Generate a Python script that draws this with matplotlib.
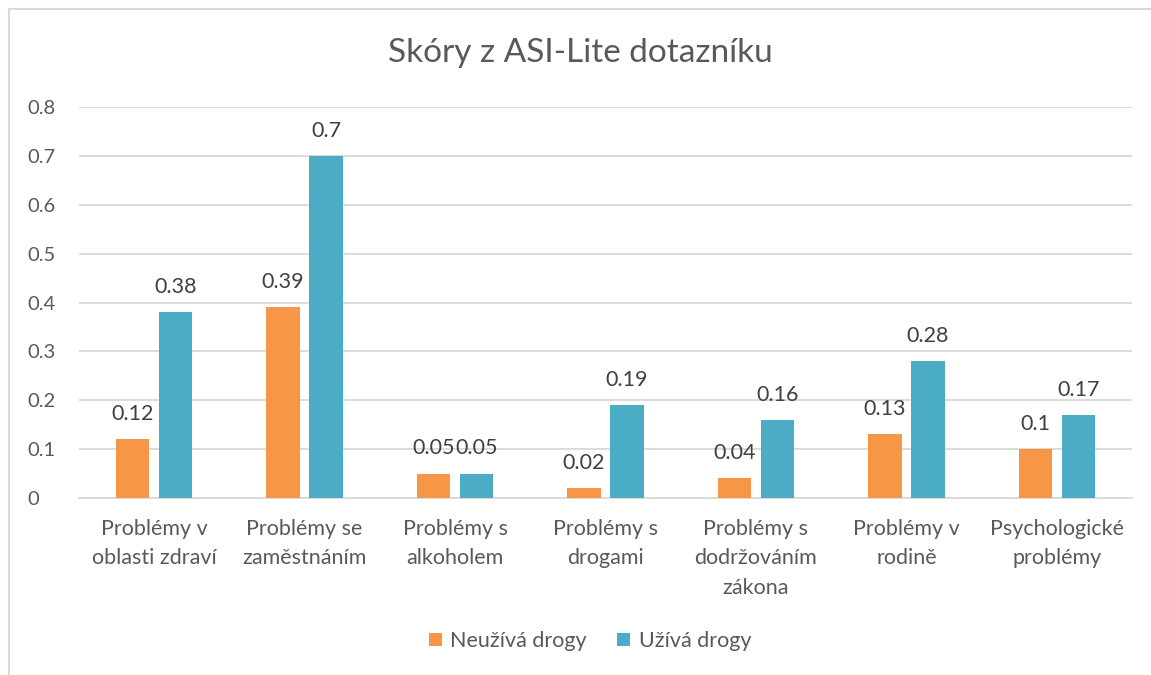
import matplotlib
matplotlib.use("Agg")
import matplotlib.pyplot as plt
from matplotlib.lines import Line2D
import numpy as np

categories = ["Problémy v\noblasti zdraví", "Problémy se\nzaměstnáním", "Problémy s\nalkoholem",
              "Problémy s\ndrogami", "Problémy s\ndodržováním\nzákona", "Problémy v\nrodině",
              "Psychologické\nproblémy"]
neuziva = [0.12, 0.39, 0.05, 0.02, 0.04, 0.13, 0.1]
uziva = [0.38, 0.7, 0.05, 0.19, 0.16, 0.28, 0.17]
series_names = ["Neužívá drogy", "Užívá drogy"]
yticks = [0, 0.1, 0.2, 0.3, 0.4, 0.5, 0.6, 0.7, 0.8]
ytick_labels = ["0", "0.1", "0.2", "0.3", "0.4", "0.5", "0.6", "0.7", "0.8"]
title = "Skóry z ASI-Lite dotazníku"

ORANGE = "#F79646"
BLUE = "#4BACC6"
TXT = "#595959"
LBL = "#404040"
GRID = "#D9D9D9"
FONT = ["Lato", "DejaVu Sans"]
plt.rcParams["font.family"] = FONT

W, H = 1151, 675
fig = plt.figure(figsize=(W / 100, H / 100), dpi=100)
ax = fig.add_axes([79 / W, 1 - 498 / H, (1132 - 79) / W, (498 - 107) / H])

x = np.arange(len(categories))
bw = 0.223
off = 0.143
b1 = ax.bar(x - off, neuziva, bw, color=ORANGE, label=series_names[0], zorder=3)
b2 = ax.bar(x + off, uziva, bw, color=BLUE, label=series_names[1], zorder=3)

for bars, vals in ((b1, neuziva), (b2, uziva)):
    for r, v in zip(bars, vals):
        ax.annotate(f"{v:g}", (r.get_x() + r.get_width() / 2, v), xytext=(0, 11),
                    textcoords="offset points", ha="center", va="bottom",
                    fontsize=15.5, color=LBL)

ax.set_xlim(-0.5, len(categories) - 0.5)
ax.set_ylim(0, 0.8)
ax.set_yticks(yticks)
ax.set_yticklabels(ytick_labels)
ax.set_xticks(x)
ax.set_xticklabels(categories, linespacing=1.6)
ax.tick_params(axis="both", length=0, labelcolor=TXT)
ax.tick_params(axis="x", labelsize=15.5, pad=15)
ax.tick_params(axis="y", labelsize=14.5, pad=0)
for lbl in ax.get_yticklabels():
    lbl.set_horizontalalignment("left")
    lbl.set_x(-(79 - 27) / (1132 - 79))
ax.yaxis.grid(True, color=GRID, linewidth=1.3, zorder=0)
ax.set_axisbelow(True)
for s in ["top", "right", "left"]:
    ax.spines[s].set_visible(False)
ax.spines["bottom"].set_color(GRID)
ax.spines["bottom"].set_linewidth(1.3)

fig.text(580 / W, 1 - 53 / H, title, ha="center", va="center", fontsize=24, color=TXT)

leg = fig.legend(handles=[b1, b2], labels=series_names, loc="center",
                 bbox_to_anchor=(590 / W, 1 - 641 / H), ncol=2, frameon=False,
                 fontsize=15.5, handlelength=0.6, handleheight=0.6, handletextpad=0.4,
                 columnspacing=1.4)
for t in leg.get_texts():
    t.set_color(TXT)

# outer chart frame (left and top edges visible)
fig.add_artist(Line2D([8.5 / W, 8.5 / W], [0, 1 - 8.5 / H], transform=fig.transFigure,
                      color="#D9D9D9", linewidth=1.5))
fig.add_artist(Line2D([8.5 / W, 1], [1 - 8.5 / H, 1 - 8.5 / H], transform=fig.transFigure,
                      color="#D9D9D9", linewidth=1.5))

fig.savefig("out.png", dpi=100, facecolor="white")
